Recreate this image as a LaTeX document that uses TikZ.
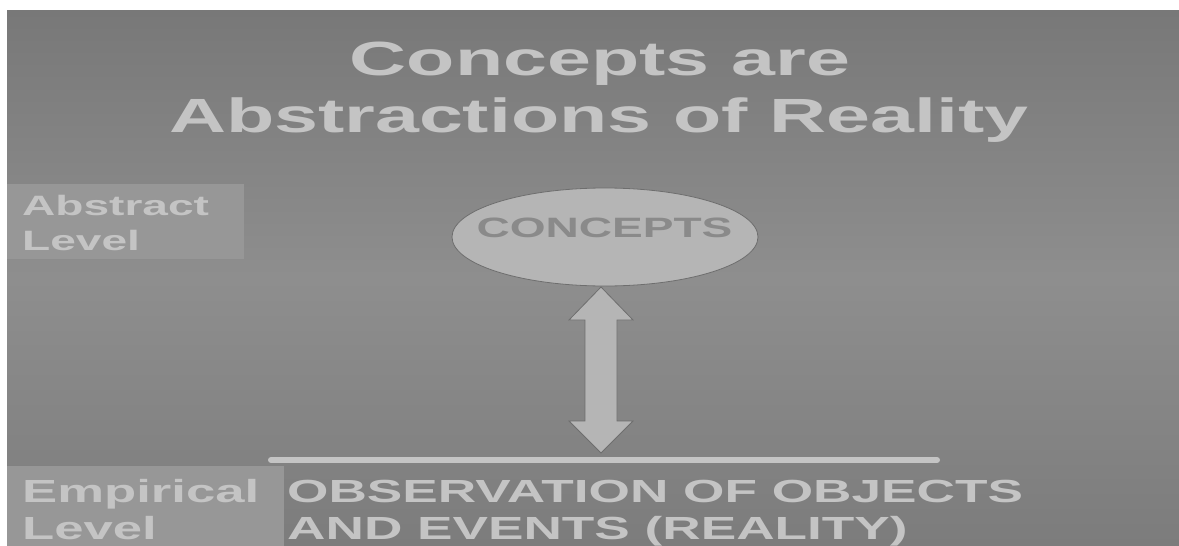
\documentclass[tikz,border=0pt]{standalone}
\usepackage{fontspec}
\setmainfont{Liberation Sans}
\usetikzlibrary{shapes.geometric,calc}
\definecolor{bgtop}{HTML}{787878}
\definecolor{bgmid}{HTML}{8E8E8E}
\definecolor{bgbot}{HTML}{7C7C7C}
\definecolor{txt}{HTML}{C4C4C4}
\definecolor{lvl}{HTML}{979797}
\definecolor{shapefill}{HTML}{B5B5B5}
\definecolor{shapeedge}{HTML}{6E6E6E}
\definecolor{ctext}{HTML}{8A8A8A}
\newcommand\xstretch[1]{\scalebox{1.645}[1]{#1}}
\newcommand\xstretchobs[1]{\scalebox{1.662}[1]{#1}}
\begin{document}
\begin{tikzpicture}[x=1pt,y=-1pt,
  txtline/.style={inner sep=0pt, text=txt, font=\bfseries},
  levelbox/.style={fill=lvl, draw=none},
  shapebox/.style={fill=shapefill, draw=shapeedge, line width=0.8pt},
  groundline/.style={draw=txt, line width=6pt, line cap=round}]
\useasboundingbox (0,0) rectangle (1179,546);
\fill[white] (0,0) rectangle (1179,546);
\shade[top color=bgtop, bottom color=bgbot, middle color=bgmid] (7,10) rectangle (1179,546);
% title
\node[txtline, anchor=base, font=\bfseries\fontsize{48}{57}\selectfont] (title1) at (600,75) {\xstretch{Concepts are}};
\node[txtline, anchor=base, font=\bfseries\fontsize{48}{57}\selectfont] (title2) at (599,132) {\xstretch{Abstractions of Reality}};
% abstract level
\fill[levelbox] (7,184) rectangle (244,259);
\node[txtline, anchor=base west, font=\bfseries\fontsize{28}{35}\selectfont] (abs1) at (22,215) {\xstretch{Abstract}};
\node[txtline, anchor=base west, font=\bfseries\fontsize{28}{35}\selectfont] (abs2) at (22,250) {\xstretch{Level}};
% concepts ellipse
\node[ellipse, shapebox, minimum width=306pt, minimum height=98pt, inner sep=0pt] (concepts) at (605,237) {};
\node[anchor=base, inner sep=0pt, text=ctext, font=\bfseries\fontsize{28}{35}\selectfont] (conceptstext) at (604.5,237) {\xstretch{CONCEPTS}};
% ground line
\coordinate (lineL) at (271,460);
\coordinate (lineR) at (937,460);
\draw[groundline] (lineL) -- (lineR);
% double arrow
\coordinate (tipT) at (601,287);
\coordinate (tipB) at (601,453);
\draw[shapebox, line join=miter] (tipT) -- ($(tipT)+(32,33)$) -- ($(tipT)+(16,33)$) -- ($(tipB)+(16,-32)$) -- ($(tipB)+(32,-32)$) -- (tipB)
  -- ($(tipB)+(-32,-32)$) -- ($(tipB)+(-16,-32)$) -- ($(tipT)+(-16,33)$) -- ($(tipT)+(-32,33)$) -- cycle;
% empirical level
\fill[levelbox] (7,466) rectangle (284,546);
\node[txtline, anchor=base west, font=\bfseries\fontsize{32}{37}\selectfont] (emp1) at (22,502) {\xstretch{Empirical}};
\node[txtline, anchor=base west, font=\bfseries\fontsize{32}{37}\selectfont] (emp2) at (22,539) {\xstretch{Level}};
% observation
\node[txtline, anchor=base west, font=\bfseries\fontsize{32}{37}\selectfont] (obs1) at (287,502) {\xstretchobs{OBSERVATION OF OBJECTS}};
\node[txtline, anchor=base west, font=\bfseries\fontsize{32}{37}\selectfont] (obs2) at (287,539) {\xstretchobs{AND EVENTS (REALITY)}};
\end{tikzpicture}
\end{document}
